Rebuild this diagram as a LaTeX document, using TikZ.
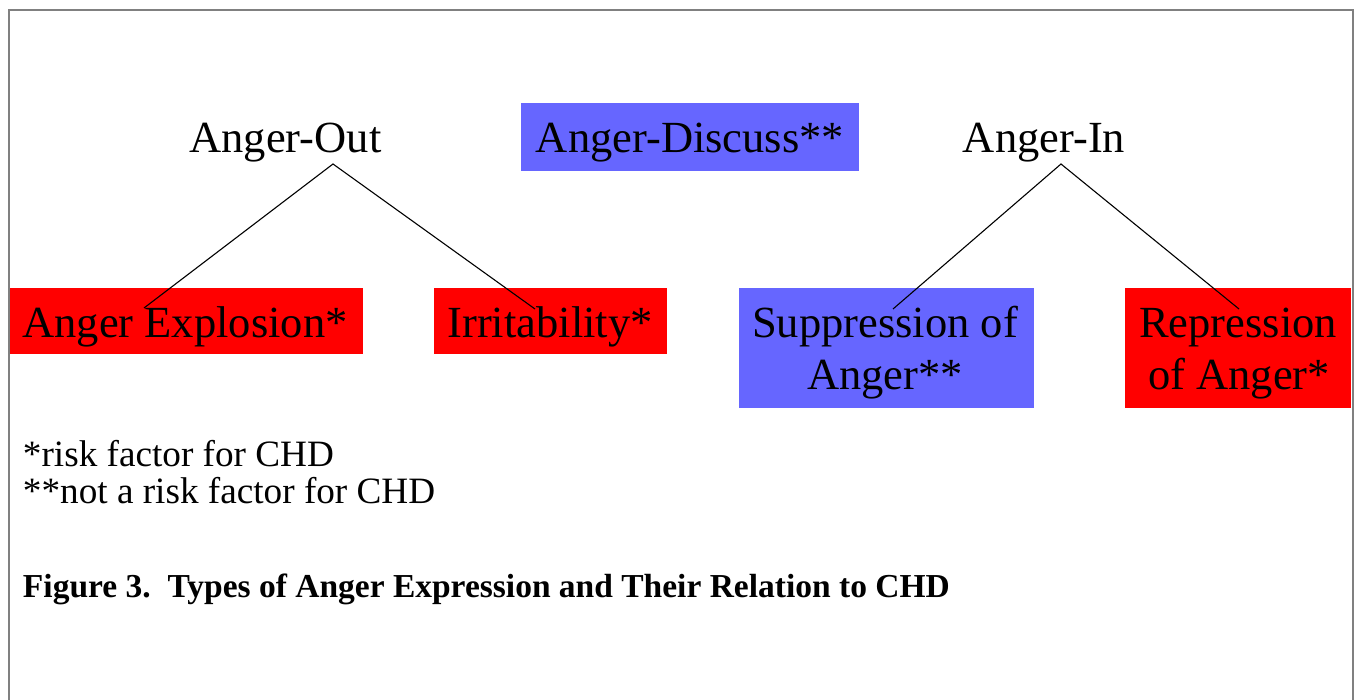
\documentclass[tikz,border=0pt]{standalone}
\usepackage{fontspec}
\setmainfont{Liberation Serif}
\definecolor{boxred}{HTML}{FF0000}
\definecolor{boxblue}{HTML}{6666FF}
\definecolor{framegray}{HTML}{808080}
\tikzset{
  redbox/.style={fill=boxred, draw=none, inner sep=0pt, outer sep=0pt},
  bluebox/.style={fill=boxblue, draw=none, inner sep=0pt, outer sep=0pt},
  lbl/.style={inner sep=0pt, outer sep=0pt, anchor=base, font=\fontsize{44.5}{53}\selectfont},
  legend/.style={inner sep=0pt, outer sep=0pt, anchor=base west, font=\fontsize{37.2}{44}\selectfont},
  caption/.style={inner sep=0pt, outer sep=0pt, anchor=base west, font=\fontsize{33.5}{40}\selectfont\bfseries},
  link/.style={draw=black, line width=1.1pt},
  frame/.style={draw=framegray, line width=1.5pt}
}
\begin{document}
\begin{tikzpicture}[x=1pt,y=-1pt]
\useasboundingbox (0,0) rectangle (1355,700);
% frame (bottom edge lies below the picture)
\draw[frame] (9,720) -- (9,10) -- (1353,10) -- (1353,720);

% boxes
\node[bluebox, minimum width=338, minimum height=68] (discussbox) at (690,137) {};
\node[redbox, minimum width=353, minimum height=66] (explbox) at (186.5,321) {};
\node[redbox, minimum width=233, minimum height=66] (irrbox) at (550.5,321) {};
\node[bluebox, minimum width=295, minimum height=120] (suppbox) at (886.5,348) {};
\node[redbox, minimum width=226, minimum height=120] (reprbox) at (1238,348) {};

% headings
\node[lbl] (out) at (285.5,153) {Anger-Out};
\node[lbl] (discuss) at (690,153) {Anger-Discuss**};
\node[lbl] (in) at (1044,153) {Anger-In};

% box texts
\node[lbl] (expl) at (185,338) {Anger Explosion*};
\node[lbl] (irr) at (550,338) {Irritability*};
\node[lbl] (supp1) at (885,338) {Suppression of};
\node[lbl] (supp2) at (885,390) {Anger**};
\node[lbl] (repr1) at (1238,338) {Repression};
\node[lbl] (repr2) at (1239,390) {of Anger*};

% connector ends
\coordinate (outapex) at (333,164);
\coordinate (inapex) at (1061,164);
\coordinate (explend) at (144,308);
\coordinate (irrend) at (535,309);
\coordinate (suppend) at (893,309);
\coordinate (reprend) at (1239,309);

\draw[link] (explend) -- (outapex) -- (irrend);
\draw[link] (suppend) -- (inapex) -- (reprend);

% legend
\node[legend] (leg1) at (23,466) {*risk factor for CHD};
\node[legend] (leg2) at (23,503) {**not a risk factor for CHD};

% caption
\node[caption] (cap) at (23,597) {Figure 3.\ \ Types of Anger Expression and Their Relation to CHD};
\end{tikzpicture}
\end{document}
